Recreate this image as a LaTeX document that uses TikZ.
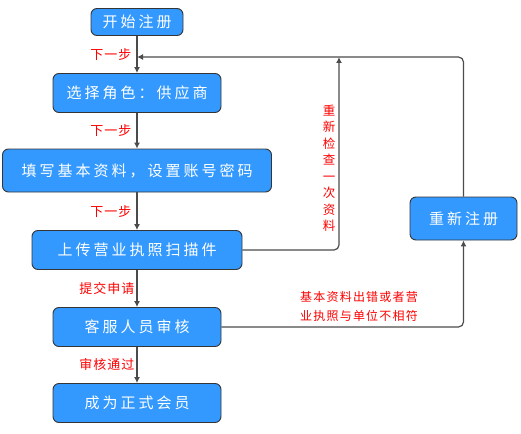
\documentclass[tikz,border=0pt]{standalone}
\usepackage{fontspec}
\setmainfont{Noto Sans CJK SC}
\usetikzlibrary{arrows.meta}
\definecolor{stepblue}{RGB}{51,153,255}
\definecolor{linegray}{RGB}{75,75,75}
\tikzstyle{stage} = [draw=linegray!70!black, fill=stepblue, rounded corners=6pt, line width=0.9pt, text=white, font=\fontsize{15}{18}\selectfont\addfontfeature{LetterSpace=20}, minimum height=39pt, inner sep=0pt]
\tikzstyle{flow} = [draw=linegray, line width=1.2pt, -{Latex[length=6pt,width=6pt]}]
\tikzstyle{back} = [flow, rounded corners=5pt]
\tikzstyle{note} = [text=red, font=\fontsize{13}{19}\selectfont\addfontfeature{LetterSpace=8}, inner sep=1pt]

\begin{document}
\begin{tikzpicture}[x=1pt, y=-1pt]
    \useasboundingbox (0,0) rectangle (521,433);
    \node[stage, minimum width=92pt, minimum height=27pt] (start) at (137,22) {开始注册};
    \node[stage, minimum width=168pt] (role) at (137,93) {选择角色：供应商};
    \node[stage, minimum width=269pt, minimum height=43pt] (fill) at (137,170.5) {填写基本资料，设置账号密码};
    \node[stage, minimum width=210pt] (upload) at (137,250) {上传营业执照扫描件};
    \node[stage, minimum width=168pt] (review) at (137,327) {客服人员审核};
    \node[stage, minimum width=168pt] (member) at (137,403) {成为正式会员};
    \node[stage, minimum width=107pt, minimum height=43pt] (reg) at (463.5,218.5) {重新注册};
    \coordinate (join) at (137,57);
    \coordinate (recheck) at (339,57);
    \draw[flow] (start) -- (role) node[note, pos=0.5, left=4pt] (next1) {下一步};
    \draw[flow] (role) -- (fill) node[note, midway, left=4pt] (next2) {下一步};
    \draw[flow] (fill) -- (upload) node[note, pos=0.5, left=4pt] (next3) {下一步};
    \draw[flow] (upload) -- (review) node[note, midway, left=1pt] (submit) {提交申请};
    \draw[flow] (review) -- (member) node[note, midway, left=1pt] (pass) {审核通过};
    \draw[back] (upload.east) -| (recheck);
    \draw[back] (reg.north) |- (join);
    \draw[back] (review.east) -| (reg.south);
    \node[note, align=center, font=\fontsize{12.5}{16.5}\selectfont] (recheckmsg) at (329,168.5) {重\\新\\检\\查\\一\\次\\资\\料};
    \node[note, align=center, font=\fontsize{12}{19}\selectfont\addfontfeature{LetterSpace=10}] (errmsg) at (359,306.5) {基本资料出错或者营\\业执照与单位不相符};
\end{tikzpicture}
\end{document}
